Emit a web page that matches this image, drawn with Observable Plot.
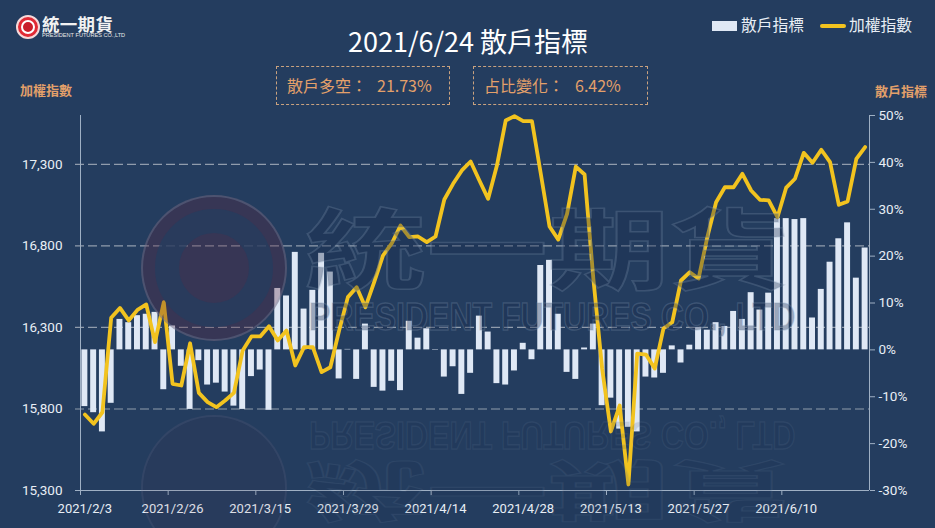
<!DOCTYPE html>
<html><head><meta charset="utf-8">
<script src="https://cdn.jsdelivr.net/npm/d3@7"></script>
<script src="https://cdn.jsdelivr.net/npm/@observablehq/plot@0.6"></script>
<style>
html,body{margin:0;padding:0;background:#243d5f;overflow:hidden}
#wrap{position:relative;width:935px;height:528px;overflow:hidden;background:#243d5f;font-family:"Noto Sans CJK TC","Noto Sans",sans-serif;color:#fff}
#wrap svg{position:absolute;left:0;top:0;background:transparent}
.a{position:absolute;white-space:nowrap;line-height:1}
.box{position:absolute;top:66px;height:39px;border:1px dashed #c9a27f;box-sizing:border-box}
.bt{position:absolute;top:77px;color:#e3a06a;font-size:16px;line-height:1;white-space:nowrap}
.ttl{color:#e3a06a;font-size:13px;font-weight:700}
.wm{position:absolute;pointer-events:none;white-space:nowrap;line-height:1;color:rgba(25,45,80,.34);-webkit-text-stroke:1.5px rgba(130,150,175,.28);font-weight:700;transform-origin:0 50%}
.ring{position:absolute;border-radius:50%;box-sizing:border-box;pointer-events:none}
</style></head><body><div id="wrap"></div>
<script>
const tickLabels = ["2021/2/3","2021/2/26","2021/3/15","2021/3/29","2021/4/14","2021/4/28","2021/5/13","2021/5/27","2021/6/10"];
const retail = [-12.1,-13.4,-17.5,-11.4,6.5,5.8,7.3,7.6,8,-8.5,5.1,-3.5,-12.7,-2.3,-7.5,-7.1,-9,-12,-12.7,-5.7,-4.3,-12.9,13.1,11.5,20.8,8.7,12.7,20.6,16.6,-6.2,0.1,-6.3,5.5,-8,-8.8,-6.7,-8.7,6.1,2.5,4.5,-0.1,-5.8,-3.6,-9.5,-5,7.2,3.8,-7.2,-7.5,-4.5,1.4,-2.1,18,19.1,7.6,-4.8,-6.3,0.4,5.5,-11.9,-10.3,-16.9,-16.5,-17.5,-5.8,-6,-5,0.85,-2.8,1,4.8,4.2,5.8,5,8.2,6.5,12.2,8.5,12.1,28,28,27.8,28,6.8,12.9,18.7,23.7,27.1,15.3,21.73];
const index = [15766,15709,15780,16359,16420,16343,16408,16441,16210,16455,15954,15944,16203,15899,15842,15811,15852,15899,16159,16245,16245,16308,16220,16281,16067,16179,16179,16026,16056,16281,16486,16547,16424,16578,16741,16815,16925,16854,16858,16823,16858,17085,17181,17263,17318,17201,17089,17293,17569,17596,17565,17565,17244,16919,16839,16997,17287,17238,16600,16048,15662,15821,15337,16140,16134,16048,16294,16332,16588,16639,16600,16854,17068,17160,17160,17242,17140,17083,17079,16976,17158,17212,17371,17310,17390,17314,17052,17073,17334,17406];
const indexTicks = [15300,15800,16300,16800,17300];
const pctTicks = [-30,-20,-10,0,10,20,30,40,50];
const colors = {bar:"#dfe8f5", line:"#f2c31f", axis:"#9fb0c4", grid:"#a3adba", text:"#e8eef5"};

const i2p = d3.scaleLinear([15300,17600],[-30,50]);
const rows = retail.map((v,i)=>({i, retail:v, index:i2p(index[i])}));
const every = 10;

const chart = Plot.plot({
  width:935, height:528,
  marginTop:115, marginBottom:38, marginLeft:80, marginRight:66,
  style:{background:"transparent", fontFamily:"Roboto, sans-serif", fontSize:"13px", color:colors.text},
  x:{type:"linear", domain:[-0.5,89.5], axis:null},
  y:{type:"linear", domain:[-30,50], axis:null},
  marks:[
    Plot.ruleY(indexTicks.slice(1).map(i2p),{stroke:colors.grid, strokeWidth:1.2, strokeDasharray:"9 4", strokeOpacity:.85, insetLeft:-5}),
    Plot.ruleY([-30],{stroke:colors.axis, strokeWidth:1, insetLeft:-5}),
    Plot.ruleX([-0.5,89.5],{stroke:colors.axis, strokeWidth:1}),
    Plot.rectY(rows,{x1:d=>d.i-0.34, x2:d=>d.i+0.34, y1:0, y2:"retail", fill:colors.bar}),
    Plot.line(rows,{x:"i", y:"index", stroke:colors.line, strokeWidth:3.8, strokeLinejoin:"round", curve:"linear"}),
    Plot.axisY(indexTicks.map(i2p),{anchor:"left", tickSize:0, tickPadding:18, tickFormat:d=>d3.format(",")(Math.round(i2p.invert(d))), fill:colors.text, fontSize:13.5}),
    Plot.axisY(pctTicks,{anchor:"right", tickSize:5, tickPadding:4, tickFormat:d=>d+"%", fill:colors.text, stroke:colors.axis, fontSize:13.5}),
    Plot.axisX(d3.range(0,90,every).map(i=>i-0.5),{anchor:"bottom", tickSize:5, fill:"none", stroke:colors.axis, label:null}),
    Plot.axisX(tickLabels.map((_,k)=>k*every),{anchor:"bottom", tickSize:0, tickPadding:13, tickFormat:d=>tickLabels[d/every], fill:colors.text, fontSize:13, label:null})
  ]
});
const wrap = document.getElementById("wrap");
wrap.appendChild(chart);

function add(html){const t=document.createElement("div");t.innerHTML=html;while(t.firstChild)wrap.appendChild(t.firstChild);}
add(`
<div class="ring" style="left:141px;top:195px;width:146px;height:146px;border:2px solid rgba(130,150,175,.30);background:rgba(95,40,65,.32)"></div>
<div class="ring" style="left:155px;top:209px;width:118px;height:118px;border:24px solid rgba(36,61,95,.72)"></div>
<div class="a wm" style="left:305px;top:200px;font-size:88px;transform:scaleX(1.38);font-family:'Noto Sans CJK TC'">統一期貨</div>
<div class="a wm" style="left:309px;top:297px;font-size:39px;transform:scaleX(.82);font-family:'Liberation Sans'">PRESIDENT FUTURES CO., LTD</div>
<div class="a wm" style="left:309px;top:416px;font-size:39px;transform:scale(.82,-1);font-family:'Liberation Sans';opacity:.4">PRESIDENT FUTURES CO., LTD</div>
<div class="a wm" style="left:305px;top:450px;font-size:88px;transform:scale(1.38,-.75);font-family:'Noto Sans CJK TC';opacity:.4">統一期貨</div>
<div style="position:absolute;left:141px;top:415px;width:146px;height:113px;overflow:hidden;pointer-events:none"><div class="ring" style="left:0;top:0;width:146px;height:146px;border:2px solid rgba(130,150,175,.12);background:rgba(95,40,65,.08)"></div></div>
`);
add(`
<div class="ring" style="left:16px;top:15px;width:24px;height:24px;background:#e02a35;border:2px solid #f6d9da"></div>
<div class="ring" style="left:21px;top:20px;width:14px;height:14px;border:2px solid #fff;background:#c81e2a"></div>
<div class="a" style="left:42px;top:15px;font-size:17.5px;font-weight:700;letter-spacing:.3px;color:#f2f2f2">統一期貨</div>
<div class="a" style="left:42px;top:33px;font-size:5.6px;color:#e8e8e8;font-family:'Liberation Sans'">PRESIDENT FUTURES CO.,LTD</div>
<div class="a" style="left:348px;top:27px;font-size:27px;font-weight:400;color:#fff">2021/6/24 散戶指標</div>
<div class="box" style="left:276px;width:174px"></div>
<div class="bt" style="left:287px">散戶多空：</div><div class="bt" style="left:377px">21.73%</div>
<div class="box" style="left:473px;width:175px"></div>
<div class="bt" style="left:484px">占比變化：</div><div class="bt" style="left:575px">6.42%</div>
<div style="position:absolute;left:712px;top:21px;width:25px;height:10px;background:#dfe8f5"></div>
<div class="a" style="left:741px;top:17px;font-size:15.75px;color:#e8eef5">散戶指標</div>
<div style="position:absolute;left:820px;top:24px;width:26px;height:3.6px;border-radius:2px;background:#f2c31f"></div>
<div class="a" style="left:849px;top:17px;font-size:15.75px;color:#e8eef5">加權指數</div>
<div class="a ttl" style="left:20px;top:83px">加權指數</div>
<div class="a ttl" style="left:875px;top:84px">散戶指標</div>
`);
</script></body></html>
